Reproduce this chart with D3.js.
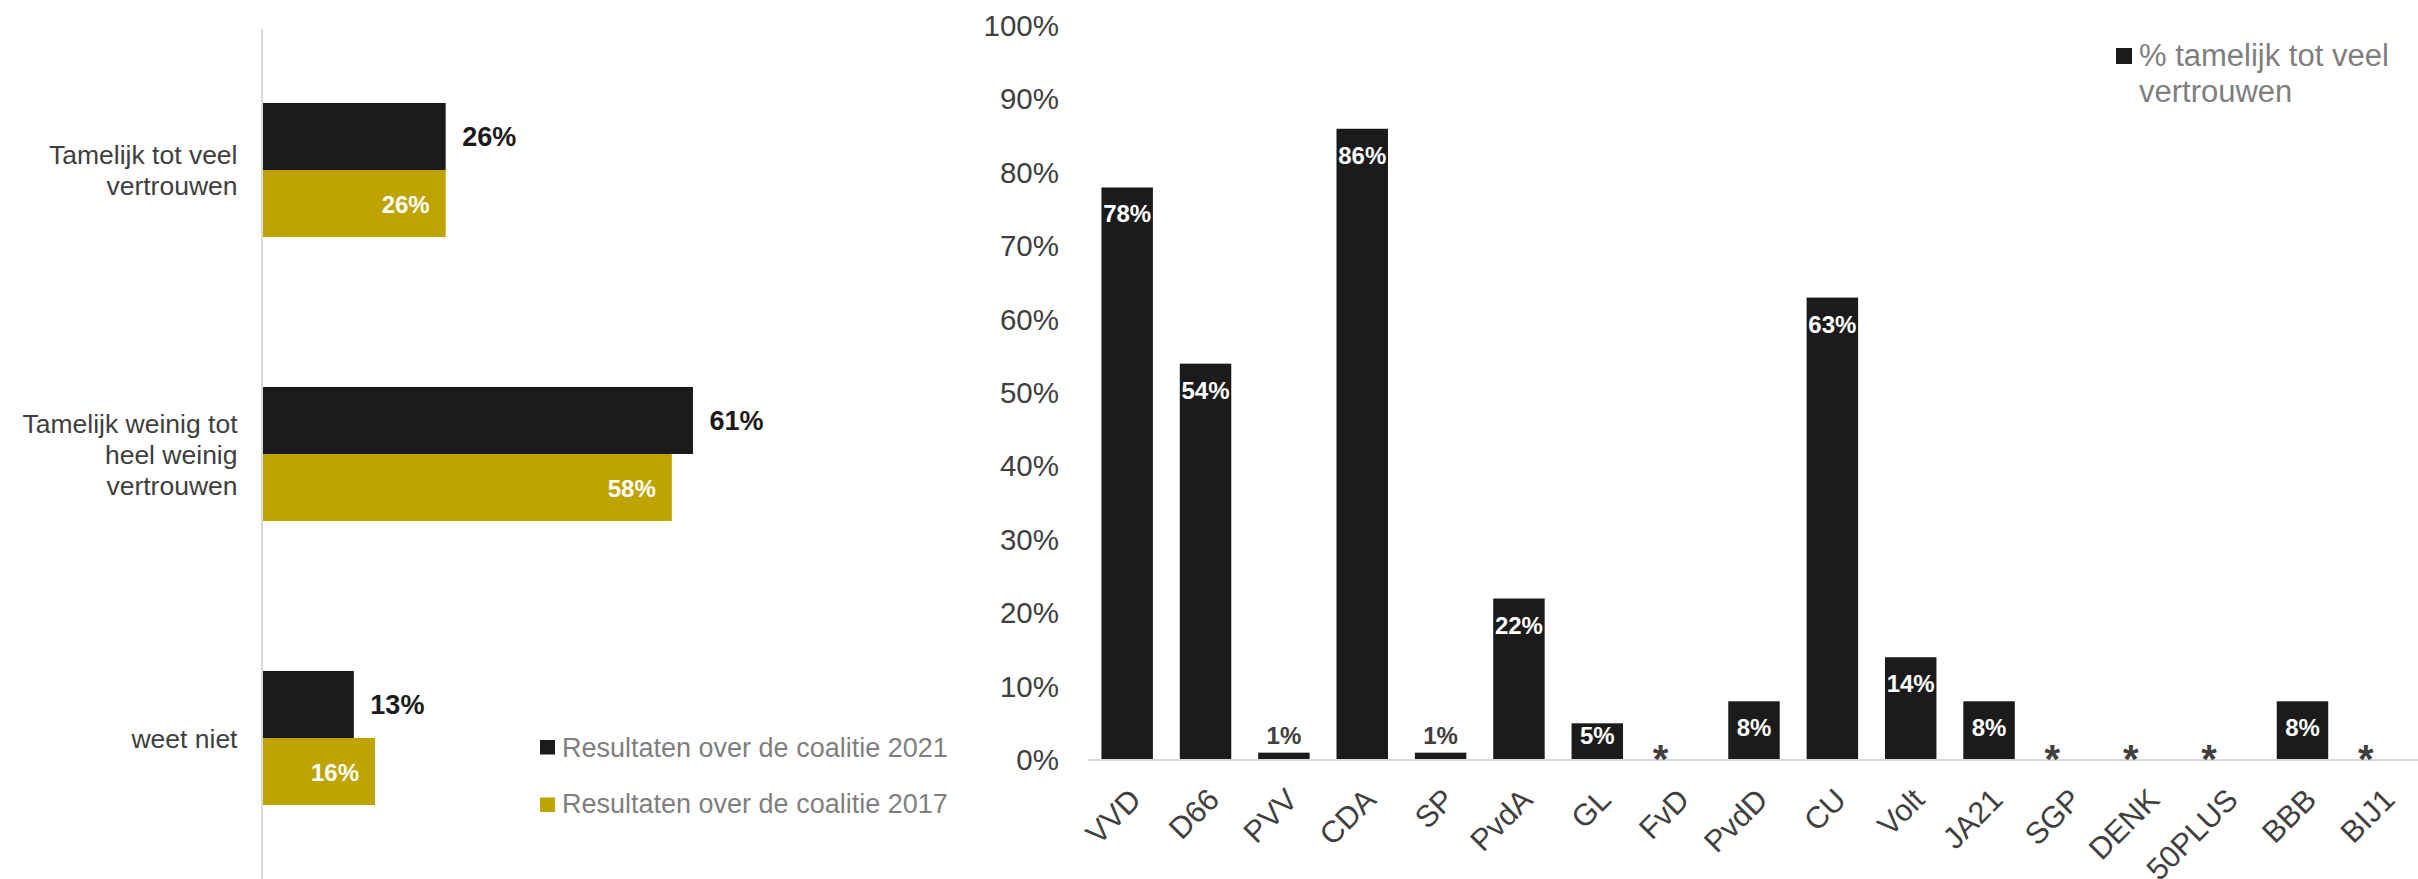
<!DOCTYPE html>
<html>
<head>
<meta charset="utf-8">
<script src="https://cdn.jsdelivr.net/npm/d3@7"></script>
<style>
  html, body { margin: 0; padding: 0; background: #fff; }
  svg { display: block; font-family: "Liberation Sans", Arial, sans-serif; }
</style>
</head>
<body>
<svg id="chart" width="2418" height="879"></svg>
<script>
// ---------- Data ----------
const leftCategories = ["Tamelijk tot veel vertrouwen", "Tamelijk weinig tot heel weinig vertrouwen", "weet niet"];
const leftCategoryLines = [["Tamelijk tot veel", "vertrouwen"], ["Tamelijk weinig tot", "heel weinig", "vertrouwen"], ["weet niet"]];
const values2021 = [26, 61, 13];
const values2017 = [26, 58, 16];
const leftSeriesNames = ["Resultaten over de coalitie 2021", "Resultaten over de coalitie 2017"];

const parties = ["VVD", "D66", "PVV", "CDA", "SP", "PvdA", "GL", "FvD", "PvdD", "CU", "Volt", "JA21", "SGP", "DENK", "50PLUS", "BBB", "BIJ1"];
const trustValues = [78, 54, 1, 86, 1, 22, 5, null, 8, 63, 14, 8, null, null, null, 8, null];
const rightSeriesName = ["% tamelijk tot veel", "vertrouwen"];
const yTicks = [0, 10, 20, 30, 40, 50, 60, 70, 80, 90, 100];

// ---------- Styles ----------
const BLACK = "#1b1b1b";
const GOLD = "#bfa300";
const TEXT = "#404040";
const LEGEND_TEXT = "#7f7f7f";
const AXIS = "#d9d9d9";

const svg = d3.select("#chart");

// ================= LEFT CHART =================
const xL = d3.scaleLinear().domain([0, 100]).range([262, 262 + 706.5]);
const yL = d3.scaleBand().domain(leftCategories).range([28, 880]).paddingInner(0.528).paddingOuter(0.264);
const bh = yL.bandwidth() / 2;

const left = svg.append("g");

left.selectAll("rect.b21").data(leftCategories).join("rect")
  .attr("x", xL(0)).attr("y", d => yL(d))
  .attr("width", (d, i) => xL(values2021[i]) - xL(0)).attr("height", bh)
  .attr("fill", BLACK);

left.selectAll("rect.b17").data(leftCategories).join("rect")
  .attr("x", xL(0)).attr("y", d => yL(d) + bh)
  .attr("width", (d, i) => xL(values2017[i]) - xL(0)).attr("height", bh)
  .attr("fill", GOLD);

// axis line
left.append("line")
  .attr("x1", xL(0)).attr("x2", xL(0)).attr("y1", 29).attr("y2", 879)
  .attr("stroke", AXIS).attr("stroke-width", 2);

// value labels 2021 (outside end, bold black)
left.selectAll("text.v21").data(leftCategories).join("text")
  .attr("x", (d, i) => xL(values2021[i]) + 16.5)
  .attr("y", d => yL(d) + bh / 2 + 10)
  .attr("font-size", 27).attr("font-weight", "bold").attr("fill", BLACK)
  .text((d, i) => values2021[i] + "%");

// value labels 2017 (inside end, bold white)
left.selectAll("text.v17").data(leftCategories).join("text")
  .attr("x", (d, i) => xL(values2017[i]) - 16)
  .attr("y", d => yL(d) + bh * 1.5 + 9)
  .attr("text-anchor", "end")
  .attr("font-size", 24).attr("font-weight", "bold").attr("fill", "#fff")
  .text((d, i) => values2017[i] + "%");

// category labels
leftCategories.forEach((c, i) => {
  const lines = leftCategoryLines[i];
  const lh = 31;
  const center = yL(c) + bh;
  const firstBaseline = center - (lines.length - 1) * lh / 2 + 9.5;
  const t = left.append("text")
    .attr("text-anchor", "end").attr("font-size", 26.5).attr("fill", TEXT);
  lines.forEach((ln, j) => {
    t.append("tspan").attr("x", 237.5).attr("y", firstBaseline + j * lh).text(ln);
  });
});

// left legend
const legL = left.append("g");
[BLACK, GOLD].forEach((col, i) => {
  legL.append("rect").attr("x", 540).attr("y", 740 + i * 57.5).attr("width", 15).attr("height", 14.5).attr("fill", col);
  legL.append("text").attr("x", 562).attr("y", 757 + i * 56)
    .attr("font-size", 27).attr("fill", LEGEND_TEXT).text(leftSeriesNames[i]);
});

// ================= RIGHT CHART =================
const xR = d3.scaleBand().domain(parties).range([1088, 2420]).paddingInner(0.343).paddingOuter(0.1715);
const yR = d3.scaleLinear().domain([0, 100]).range([760, 26]);

const right = svg.append("g");

// y axis labels
const yAxis = d3.axisLeft(yR).tickValues(yTicks).tickFormat(d => d + "%").tickSize(0).tickPadding(0);
const yg = right.append("g").attr("transform", "translate(1059,0)").call(yAxis);
yg.select(".domain").remove();
yg.selectAll("text").attr("font-size", 29.5).attr("fill", TEXT)
  .attr("font-family", "'Liberation Sans', Arial, sans-serif");

// bars
const data = parties.map((p, i) => ({ p, v: trustValues[i] }));
right.selectAll("rect.bar").data(data.filter(d => d.v !== null)).join("rect")
  .attr("x", d => xR(d.p)).attr("width", xR.bandwidth())
  .attr("y", d => yR(d.v)).attr("height", d => yR(0) - yR(d.v))
  .attr("fill", BLACK);

// baseline
right.append("line")
  .attr("x1", 1088).attr("x2", 2418).attr("y1", yR(0)).attr("y2", yR(0))
  .attr("stroke", AXIS).attr("stroke-width", 2);

// data labels
right.selectAll("text.lbl").data(data).join("text")
  .attr("text-anchor", "middle")
  .attr("x", d => xR(d.p) + xR.bandwidth() / 2 + (d.v === null ? -15 : 0))
  .attr("y", d => {
    if (d.v === null) return yR(0) + 13;
    if (d.v < 3) return yR(d.v) - 9;
    return Math.min(yR(d.v) + 35, yR(0) - 16);
  })
  .attr("font-size", d => d.v === null ? 40 : 24)
  .attr("font-weight", "bold")
  .attr("fill", d => (d.v === null || d.v < 3) ? TEXT : "#fff")
  .text(d => d.v === null ? "*" : d.v + "%");

// x axis labels rotated
right.selectAll("text.xl").data(parties).join("text")
  .attr("text-anchor", "end")
  .attr("font-size", 30.5).attr("fill", TEXT)
  .attr("transform", d => `translate(${xR(d) + xR.bandwidth() / 2 + 8},${yR(0) + 34}) rotate(-45)`)
  .attr("dy", "0.35em")
  .text(d => d);

// right legend
right.append("rect").attr("x", 2116).attr("y", 48).attr("width", 16).attr("height", 16).attr("fill", BLACK);
const lt = right.append("text").attr("font-size", 31).attr("fill", LEGEND_TEXT);
rightSeriesName.forEach((ln, j) => lt.append("tspan").attr("x", 2139).attr("y", 66 + j * 36).text(ln));
</script>
</body>
</html>
